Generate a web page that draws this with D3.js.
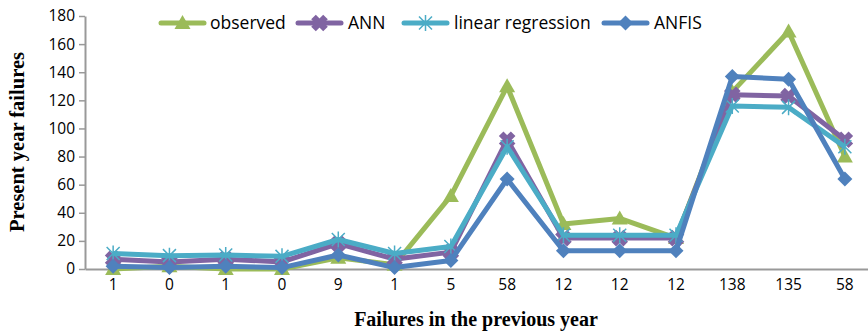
<!DOCTYPE html>
<html>
<head>
<meta charset="utf-8">
<script src="https://cdn.jsdelivr.net/npm/d3@7"></script>
<style>
  html, body { margin: 0; padding: 0; background: #fff; }
  svg { display: block; }
</style>
</head>
<body>
<svg id="chart" width="868" height="333"></svg>
<script>
// ---- data ----
const categories = ["1", "0", "1", "0", "9", "1", "5", "58", "12", "12", "12", "138", "135", "58"];
const observed = [0, 2, 0, 0, 8, 3, 52, 130, 32, 36, 22, 126, 169, 80];
const ann = [7, 5, 7, 5, 18, 7, 12, 92, 22, 22, 22, 124, 123, 92];
const linearRegression = [11, 9.5, 10, 9, 21, 11, 16, 87, 24, 24, 24, 116, 115, 87];
const anfis = [2, 1, 2, 1, 10, 1, 6, 64, 13, 13, 13, 137, 135, 64];
const yTicks = [0, 20, 40, 60, 80, 100, 120, 140, 160, 180];
const seriesNames = ["observed", "ANN", "linear regression", "ANFIS"];

const series = [
  { name: seriesNames[0], values: observed, color: "#9BBB59", marker: "triangle" },
  { name: seriesNames[1], values: ann, color: "#8064A2", marker: "x" },
  { name: seriesNames[2], values: linearRegression, color: "#4BACC6", marker: "star" },
  { name: seriesNames[3], values: anfis, color: "#4F81BD", marker: "diamond" }
];

const svg = d3.select("#chart");
const font = "'Open Sans', sans-serif";
const axisColor = "#999999";

const x = d3.scaleBand().domain(d3.range(categories.length)).range([85, 873]).paddingInner(0).paddingOuter(0);
const y = d3.scaleLinear().domain([0, 180]).range([269, 16]);
const cx = i => x(i) + x.bandwidth() / 2;

// y axis
const yAxis = d3.axisLeft(y).tickValues(yTicks).tickSize(6).tickSizeOuter(0).tickPadding(4);
const gy = svg.append("g").attr("transform", "translate(85,0)").call(yAxis);
gy.select(".domain").attr("stroke", axisColor).attr("stroke-width", 2);
gy.selectAll(".tick line").attr("stroke", axisColor).attr("stroke-width", 1.5);
gy.selectAll(".tick text").attr("font-family", font).attr("font-size", 15.5).attr("fill", "#000");

// x axis
const xAxis = d3.axisBottom(x).tickFormat(i => categories[i]).tickSize(0).tickSizeOuter(0).tickPadding(10);
const gx = svg.append("g").attr("transform", "translate(0,269)").call(xAxis);
gx.select(".domain").attr("stroke", axisColor).attr("stroke-width", 2);
gx.selectAll(".tick text").attr("font-family", font).attr("font-size", 15.5).attr("fill", "#000");

// axis titles
svg.append("text")
  .attr("x", 476).attr("y", 326)
  .attr("text-anchor", "middle")
  .attr("font-family", "'Liberation Serif', 'Times New Roman', serif")
  .attr("font-weight", "bold").attr("font-size", 20)
  .text("Failures in the previous year");
svg.append("text")
  .attr("transform", "translate(24,142) rotate(-90)")
  .attr("text-anchor", "middle")
  .attr("font-family", "'Liberation Serif', 'Times New Roman', serif")
  .attr("font-weight", "bold").attr("font-size", 20.5)
  .text("Present year failures");

function drawMarker(g, type, px, py, color) {
  if (type === "triangle") {
    const s = 8;
    g.append("path")
      .attr("d", `M${px},${py - s} L${px + s},${py + s * 0.75} L${px - s},${py + s * 0.75} Z`)
      .attr("fill", color);
  } else if (type === "diamond") {
    const s = 7.5;
    g.append("path")
      .attr("d", `M${px},${py - s} L${px + s},${py} L${px},${py + s} L${px - s},${py} Z`)
      .attr("fill", color);
  } else if (type === "x") {
    const s = 6;
    g.append("path")
      .attr("d", `M${px - s},${py - s} L${px + s},${py + s} M${px + s},${py - s} L${px - s},${py + s}`)
      .attr("stroke", color).attr("stroke-width", 6.5).attr("fill", "none");
  } else if (type === "star") {
    const s = 6.5;
    g.append("path")
      .attr("d", `M${px - s},${py - s} L${px + s},${py + s} M${px + s},${py - s} L${px - s},${py + s} M${px},${py - s - 1.5} L${px},${py + s + 1.5}`)
      .attr("stroke", color).attr("stroke-width", 1.5).attr("fill", "none");
  }
}

const line = d3.line().x((d, i) => cx(i)).y(d => y(d));

series.forEach(s => {
  const g = svg.append("g");
  g.append("path")
    .attr("d", line(s.values))
    .attr("fill", "none")
    .attr("stroke", s.color)
    .attr("stroke-width", 5)
    .attr("stroke-linejoin", "round");
  s.values.forEach((v, i) => drawMarker(g, s.marker, cx(i), y(v), s.color));
});

// legend
const legendItems = [
  { lx: 161, tx: 210 },
  { lx: 298, tx: 348 },
  { lx: 404, tx: 454 },
  { lx: 604, tx: 654 }
];
series.forEach((s, k) => {
  const g = svg.append("g");
  const L = legendItems[k];
  const ly = 23;
  g.append("line")
    .attr("x1", L.lx).attr("x2", L.lx + 43).attr("y1", ly).attr("y2", ly)
    .attr("stroke", s.color).attr("stroke-width", 5).attr("stroke-linecap", "round");
  drawMarker(g, s.marker, L.lx + 21.5, ly, s.color);
  g.append("text")
    .attr("x", L.tx).attr("y", ly + 6)
    .attr("font-family", font).attr("font-size", 17.5).attr("fill", "#000")
    .text(s.name);
});
</script>
</body>
</html>
